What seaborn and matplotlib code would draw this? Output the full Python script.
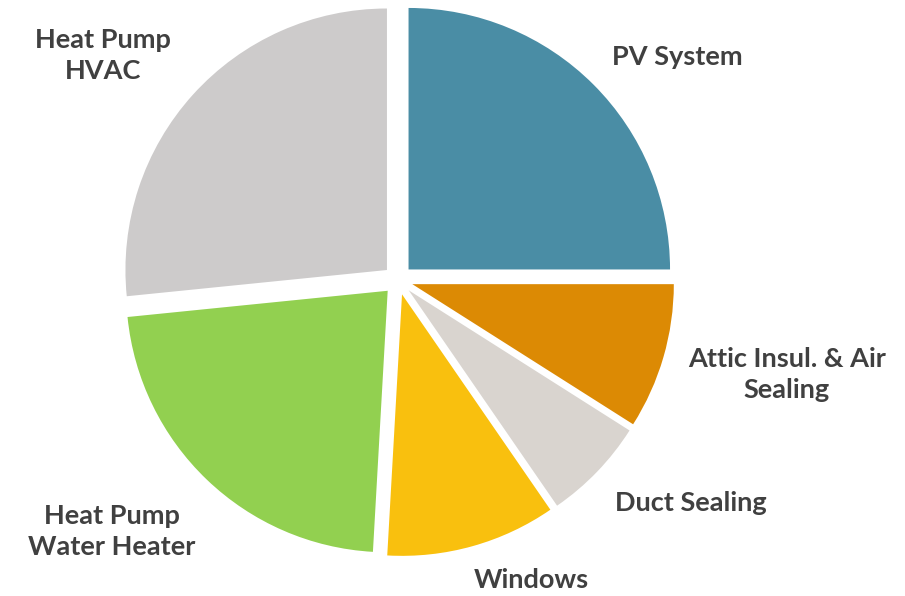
import matplotlib
matplotlib.use("Agg")
import matplotlib.pyplot as plt
import seaborn as sns

# slice shares (percent), clockwise from 12 o'clock
categories = ["PV System", "Attic Insul. & Air\nSealing", "Duct Sealing",
              "Windows", "Heat Pump\nWater Heater", "Heat Pump\nHVAC"]
shares = [25.0, 9.0, 6.4, 10.5, 22.5, 26.6]
colors = ["#4A8DA5", "#DC8A04", "#D9D4CF", "#F9C00E", "#92D050", "#CDCBCB"]

# label anchor points, in pie-radius units
label_pos = [(1.067, 0.853), (1.487, -0.363), (1.120, -0.853),
             (0.509, -1.147), (-1.094, -0.963), (-1.128, 0.860)]

sns.set_theme(style="white")
plt.rcParams["font.family"] = ["Lato", "DejaVu Sans"]

fig = plt.figure(figsize=(9.05, 5.96), dpi=100)
ax = fig.add_axes([0, 0, 1, 1])

ax.pie(shares, colors=colors, startangle=90, counterclock=False,
       explode=[0.057] * len(shares), radius=1.0,
       wedgeprops=dict(linewidth=0))

for name, (x, y) in zip(categories, label_pos):
    ax.text(x, y, name, ha="center", va="center", fontsize=19.5,
            fontweight="bold", color="#404040", linespacing=1.35)

ax.set_aspect("auto")
ax.set_xlim(-398 / 261.5, (905 - 398) / 261.5)
ax.set_ylim((280 - 596) / 261.5, 280 / 261.5)
ax.axis("off")

fig.savefig("out.png", dpi=100, facecolor="white")
plt.close(fig)
